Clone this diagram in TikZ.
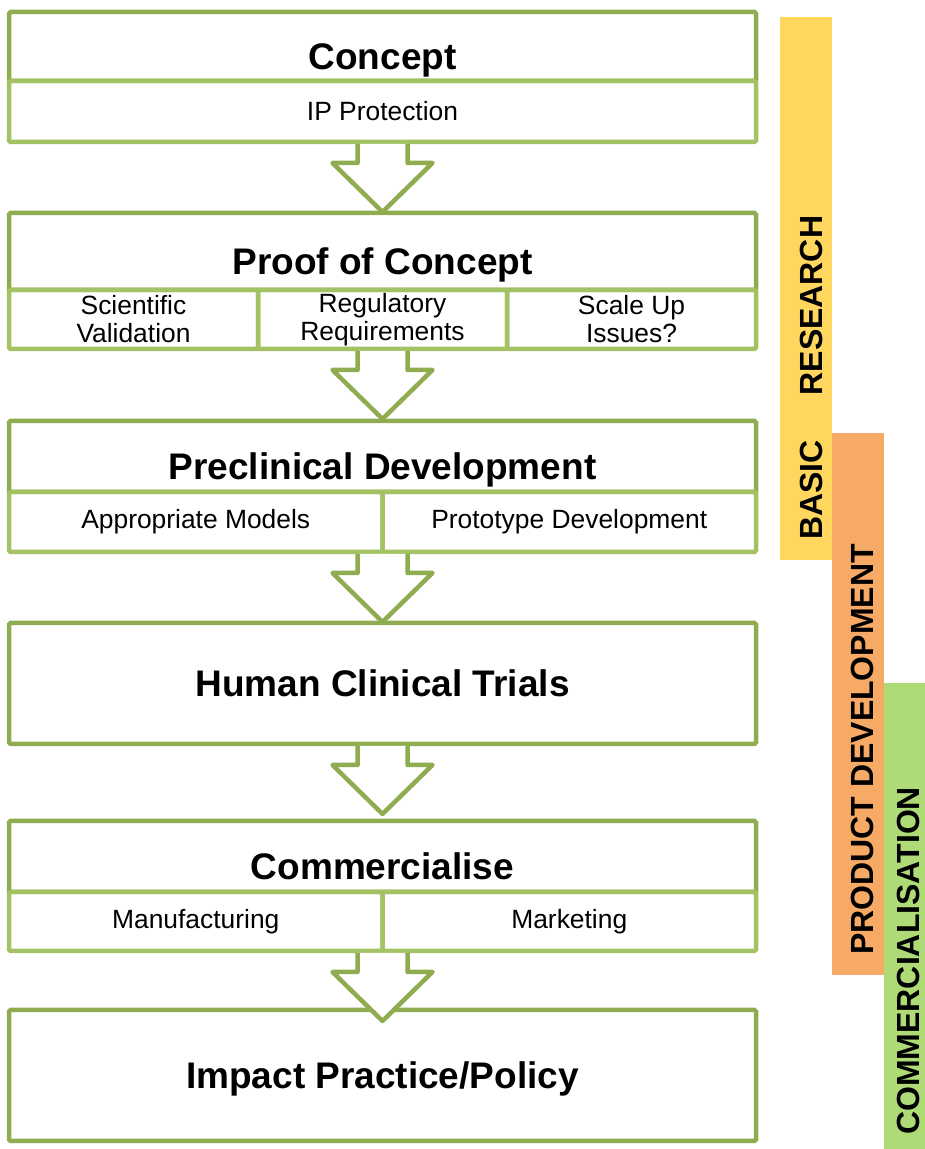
\documentclass[tikz,border=0pt]{standalone}
\usepackage{fontspec}
\setmainfont{Liberation Sans}
\usetikzlibrary{positioning, calc}
\definecolor{framegreen}{RGB}{143,173,80}
\definecolor{cellgreen}{RGB}{163,194,99}
\definecolor{resyellow}{RGB}{255,214,94}
\definecolor{devorange}{RGB}{247,170,102}
\definecolor{comgreen}{RGB}{174,219,118}

\begin{document}
\begin{tikzpicture}[
		x=1pt, y=1pt,
		stage/.style={draw=framegreen, line width=4.5pt, rectangle, rounded corners=1.5pt, outer sep=0pt, inner sep=0pt, minimum width=747pt, anchor=north, font=\fontsize{37}{44}\selectfont\bfseries, text depth=0pt},
		titlebox/.style={stage, text height=46pt},
		plainbox/.style={stage, text height=26.5pt},
		cell/.style={draw=cellgreen, line width=4.5pt, rectangle, rounded corners=1.5pt, outer sep=0pt, inner sep=0pt, align=center, font=\fontsize{26.4}{28}\selectfont},
		flowarrow/.style={draw=framegreen, fill=white, line width=4.5pt, line join=round},
		phasebar/.style={rectangle, inner sep=0pt, outer sep=0pt, anchor=south west},
		phaselabel/.style={rotate=90, inner sep=0pt, anchor=base west, font=\fontsize{32}{36}\selectfont\bfseries}
	]
		\useasboundingbox (0,0) rectangle (925,1149);

		\node (resbar) [phasebar, fill=resyellow, minimum width=52pt, minimum height=543pt] at (780,589) {};
		\node (devbar) [phasebar, fill=devorange, minimum width=52pt, minimum height=542pt] at (832,174) {};
		\node (combar) [phasebar, fill=comgreen, minimum width=41pt, minimum height=466pt] at (884,0) {};
		\node (reslbl) [phaselabel] at ($(resbar.south)+(16,20)$) {BASIC\hspace{36pt} RESEARCH};
		\node (devlbl) [phaselabel] at ($(devbar.south)+(15,20)$) {PRODUCT DEVELOPMENT};
		\node (comlbl) [phaselabel] at ($(combar.south)+(14.5,14)$) {COMMERCIALISATION};

		\node (concept) [titlebox, minimum height=69pt] at (382.5,1137) {Concept};
		\node (ipp) [cell, minimum width=747pt, minimum height=61pt, anchor=north west] at (concept.south west) {IP Protection};

		\node (proof) [titlebox, minimum height=77pt] at (382.5,936) {Proof of Concept};
		\node (sciv) [cell, minimum width=249pt, minimum height=59pt, anchor=north west] at (proof.south west) {Scientific\\Validation};
		\node (regr) [cell, minimum width=249pt, minimum height=59pt, right=0pt of sciv] {Regulatory\\Requirements};
		\node (scup) [cell, minimum width=249pt, minimum height=59pt, right=0pt of regr] {Scale Up\\Issues?};

		\node (precl) [titlebox, minimum height=71pt] at (382.5,728) {Preclinical Development};
		\node (mods) [cell, minimum width=373.5pt, minimum height=60pt, anchor=north west] at (precl.south west) {Appropriate Models};
		\node (prot) [cell, minimum width=373.5pt, minimum height=60pt, right=0pt of mods] {Prototype Development};

		\node (human) [plainbox, minimum height=121pt] at (382.5,526) {Human Clinical Trials};

		\node (comm) [titlebox, minimum height=71pt] at (382.5,328) {Commercialise};
		\node (manu) [cell, minimum width=373.5pt, minimum height=59pt, anchor=north west] at (comm.south west) {Manufacturing};
		\node (mark) [cell, minimum width=373.5pt, minimum height=59pt, right=0pt of manu] {Marketing};

		\node (impact) [plainbox, minimum height=131pt] at (382.5,139) {Impact Practice/Policy};

		\foreach \src/\dst in {ipp.south/proof, regr.south/precl, mods.south east/human, human.south/comm, manu.south east/impact}
			\draw [flowarrow] ($(\src)+(-25,-2)$) -- ++(0,-19) -- ++(-25,0) -- ($(\src)!70pt!(\dst.north)$) -- ($(\src)+(50,-21)$) -- ++(-25,0) -- ++(0,19);
	\end{tikzpicture}
\end{document}
